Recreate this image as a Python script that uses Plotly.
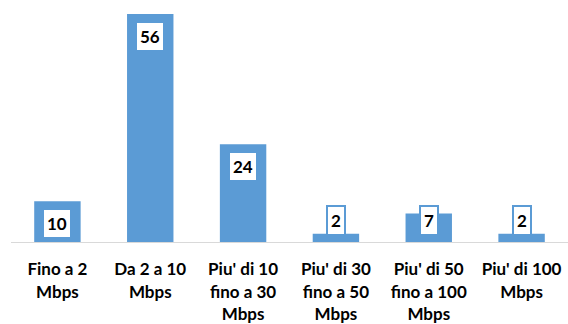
import plotly.graph_objects as go

# Distribution of connection speed classes (percent)
categories = [
    "Fino a 2<br>Mbps",
    "Da 2 a 10<br>Mbps",
    "Piu' di 10<br>fino a 30<br>Mbps",
    "Piu' di 30<br>fino a 50<br>Mbps",
    "Piu' di 50<br>fino a 100<br>Mbps",
    "Piu' di 100<br>Mbps",
]
values = [10, 56, 24, 2, 7, 2]

BAR_COLOR = "#5B9BD5"
FONT = "Lato"

fig = go.Figure(
    go.Bar(
        x=categories,
        y=values,
        marker=dict(color=BAR_COLOR, line=dict(width=0)),
        hoverinfo="skip",
    )
)

# Value labels: boxed, inside the top of tall bars, resting near the axis for short ones
for cat, v in zip(categories, values):
    tall = v >= 10
    fig.add_annotation(
        x=cat,
        y=v if tall else 0,
        yanchor="top" if tall else "bottom",
        yshift=-7 if tall else 6,
        text=f"<b>{v}</b>",
        showarrow=False,
        font=dict(family=FONT, size=17, color="black"),
        bgcolor="white",
        bordercolor=BAR_COLOR,
        borderwidth=2,
        borderpad=3,
    )

fig.update_layout(
    width=568,
    height=324,
    margin=dict(l=11, r=0, t=10, b=82),
    paper_bgcolor="white",
    plot_bgcolor="white",
    bargap=0.5,
    showlegend=False,
    font=dict(family=FONT),
)
fig.update_xaxes(
    showline=True,
    linecolor="#D9D9D9",
    linewidth=1,
    showgrid=False,
    ticks="",
    tickangle=0,
    automargin=False,
    ticklabelstandoff=12,
    tickfont=dict(family=FONT, size=17, color="black", weight="bold"),
)
fig.update_yaxes(
    range=[0, 57],
    visible=False,
    showgrid=False,
)

fig.write_html("out.html")
